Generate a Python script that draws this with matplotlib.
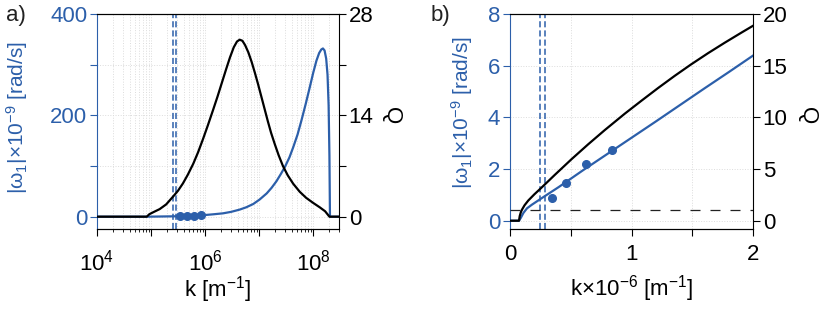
import math

import matplotlib
matplotlib.use("Agg")
import matplotlib.pyplot as plt
import numpy as np
from matplotlib.ticker import FixedLocator, FuncFormatter, LogLocator, NullFormatter

plt.rcParams["font.family"] = ["Liberation Sans", "DejaVu Sans"]
plt.rcParams["mathtext.fontset"] = "custom"
plt.rcParams["mathtext.rm"] = "Liberation Sans"
plt.rcParams["mathtext.it"] = "Liberation Sans:italic"
plt.rcParams["font.size"] = 16

BLUE = "#2c5faa"

# ---- panel a) (log10 of k in m^-1) ----
logk_Q = [4.0, 4.92, 4.97, 5.05, 5.16, 5.28, 5.41, 5.50, 5.59, 5.68, 5.78,
          5.87, 5.96, 6.05, 6.15, 6.23, 6.31, 6.39, 6.46, 6.53, 6.59, 6.64,
          6.69, 6.74, 6.80, 6.86, 6.92, 6.98, 7.04, 7.10, 7.16, 7.22, 7.29,
          7.36, 7.44, 7.53, 7.63, 7.75, 7.87, 8.00, 8.12, 8.22, 8.30, 8.48]
Q_a = [0, 0, 0.35, 0.65, 1.05, 1.7, 2.8, 3.6, 4.6, 5.8, 7.3,
       8.9, 10.7, 12.6, 14.8, 16.6, 18.5, 20.4, 22.0, 23.4, 24.2, 24.45,
       24.3, 23.7, 22.7, 21.4, 19.9, 18.3, 16.6, 14.9, 13.2, 11.6, 10.0,
       8.5, 7.0, 5.7, 4.55, 3.45, 2.6, 1.9, 1.3, 0.75, 0, 0]

logk_w = [4.0, 4.92, 5.53, 5.92, 6.0, 6.15, 6.33, 6.48, 6.64, 6.76, 6.89,
          7.01, 7.14, 7.23, 7.32, 7.40, 7.48, 7.56, 7.63, 7.71, 7.78, 7.86,
          7.94, 8.00, 8.06, 8.11, 8.15, 8.18, 8.21, 8.24, 8.265, 8.285,
          8.30, 8.31, 8.48]
w_a = [0, 0, 0.9, 2.7, 3.3, 4.7, 6.6, 9.5, 14, 18.5, 25,
       34, 46, 57, 70, 84, 99, 117, 137, 162, 189, 222,
       257, 284, 308, 323, 330, 332, 328, 312, 280, 220,
       120, 0, 0]

# ---- panel b) (k in units of 1e6 m^-1) ----
kb_Q = [0, 0.074, 0.08, 0.09, 0.10, 0.12, 0.15, 0.20, 0.252, 0.30, 0.37,
        0.507, 0.644, 0.78, 0.945, 1.083, 1.219, 1.356, 1.49, 1.63, 1.767,
        1.905, 2.0]
Q_b = [0, 0, 0.45, 0.85, 1.1, 1.5, 1.95, 2.55, 3.12, 3.66, 4.45,
       5.96, 7.4, 8.77, 10.36, 11.62, 12.84, 14.02, 15.12, 16.21, 17.22,
       18.2, 18.86]

kb_w = [0, 0.074, 0.09, 0.11, 0.14, 0.18, 0.26, 0.4, 0.6, 0.8, 1.0,
        1.2, 1.4, 1.6, 1.8, 2.0]
w_b = [0, 0, 0.12, 0.3, 0.48, 0.62, 0.87, 1.3, 1.95, 2.58, 3.21,
       3.84, 4.48, 5.12, 5.75, 6.39]

# measured points (k in 1e6 m^-1, |w1| in 1e9 rad/s)
k_dots = [0.343, 0.46, 0.625, 0.836]
w_dots = [0.89, 1.45, 2.18, 2.74]

# vertical markers (k in 1e6 m^-1)
k_marks = [0.25, 0.285]
Q_level = 1

YLABEL = r"|ω$_1$|×10$^{-9}$ [rad/s]"


def style_axes(ax, ax2):
    ax.spines["left"].set_color(BLUE)
    ax2.spines["left"].set_visible(False)
    ax.spines["right"].set_visible(False)
    for a in (ax, ax2):
        for s in a.spines.values():
            s.set_linewidth(0.8)
    ax.tick_params(axis="y", colors=BLUE, length=5, width=0.8, pad=2)
    ax.tick_params(axis="x", which="major", length=5, width=0.8)
    ax.tick_params(axis="x", which="minor", length=2.5, width=0.6)
    ax2.tick_params(axis="y", length=5, width=0.8, pad=2, colors="black")
    ax.grid(True, which="both", color="#dcdcdc", linestyle=":", linewidth=0.7)
    ax.set_axisbelow(True)


def decade_label(v, pos):
    e = round(math.log10(v))
    return r"10$^{%d}$" % e if e % 2 == 0 else ""


fig = plt.figure(figsize=(8.3, 3.14), dpi=100)

# ----- a) -----
ax = fig.add_axes([97 / 830, 85 / 314, 242 / 830, 215 / 314])
ax2 = ax.twinx()
ax.set_xscale("log")
ax.plot(10 ** np.array(logk_w), w_a, color=BLUE, lw=1.6, zorder=3)
ax.plot(np.array(k_dots) * 1e6, w_dots, "o", color=BLUE, ms=5.5, zorder=4)
for km in k_marks:
    ax.axvline(km * 1e6, color=BLUE, lw=1.1, ls=(0, (4, 2)), zorder=2)
ax2.plot(10 ** np.array(logk_Q), Q_a, color="black", lw=1.6)
ax.set_xlim(1e4, 3e8)
ax.set_ylim(-24.3, 400)
ax2.set_ylim(-24.3 / 400 * 28, 28)
ax.xaxis.set_major_locator(FixedLocator([1e4, 1e5, 1e6, 1e7, 1e8]))
ax.xaxis.set_major_formatter(FuncFormatter(decade_label))
ax.xaxis.set_minor_locator(LogLocator(base=10, subs=range(2, 10), numticks=20))
ax.xaxis.set_minor_formatter(NullFormatter())
ax.set_yticks([0, 100, 200, 300, 400])
ax.set_yticklabels(["0", "", "200", "", "400"])
ax2.set_yticks([0, 7, 14, 21, 28])
ax2.set_yticklabels(["0", "", "14", "", "28"])
style_axes(ax, ax2)
ax.tick_params(axis="x", pad=10)
ax.set_xlabel(r"k [m$^{-1}$]", labelpad=-1)
ax.set_ylabel(YLABEL, color=BLUE, ha="center", va="center", fontsize=15)
ax.yaxis.set_label_coords(-0.33, 0.52)
ax2.set_ylabel("Q", rotation=-90, ha="center", va="center")
ax2.yaxis.set_label_coords(1.215, 0.526)
fig.text(16 / 830, 1 - 16 / 314, "a)", ha="center", va="center", color="#222222")

# ----- b) -----
bx = fig.add_axes([510 / 830, 85 / 314, 243 / 830, 215 / 314])
bx2 = bx.twinx()
bx.plot(kb_w, w_b, color=BLUE, lw=1.6, zorder=3)
bx.plot(k_dots, w_dots, "o", color=BLUE, ms=5.5, zorder=4)
for km in k_marks:
    bx.axvline(km, color=BLUE, lw=1.1, ls=(0, (4, 2)), zorder=2)
bx2.plot(kb_Q, Q_b, color="black", lw=1.6)
bx2.axhline(Q_level, color="#222222", lw=0.9, ls=(0, (8, 8)))
bx.set_xlim(0, 2)
bx.set_ylim(-0.32, 8)
bx2.set_ylim(-0.8, 20)
bx.set_xticks([0, 0.5, 1, 1.5, 2])
bx.set_xticklabels(["0", "", "1", "", "2"])
bx.set_yticks([0, 2, 4, 6, 8])
bx2.set_yticks([0, 5, 10, 15, 20])
style_axes(bx, bx2)
bx.tick_params(axis="x", pad=5.5)
bx.set_xlabel(r"k×10$^{-6}$ [m$^{-1}$]", labelpad=6)
bx.set_ylabel(YLABEL, color=BLUE, ha="center", va="center", fontsize=15)
bx.yaxis.set_label_coords(-0.198, 0.54)
bx2.set_ylabel("Q", rotation=-90, ha="center", va="center")
bx2.yaxis.set_label_coords(1.226, 0.526)
fig.text(440 / 830, 1 - 16 / 314, "b)", ha="center", va="center", color="#222222")

fig.savefig("out.png", dpi=100)
